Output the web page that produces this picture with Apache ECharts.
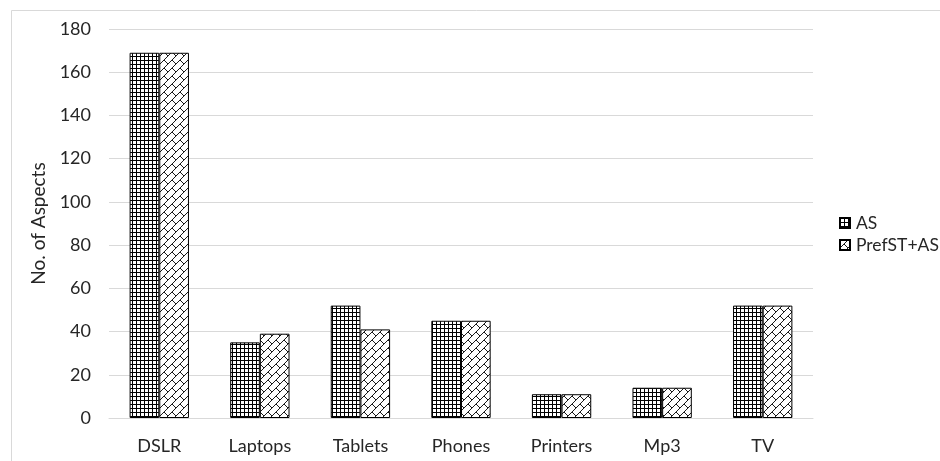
<!DOCTYPE html>
<html>
<head>
<meta charset="utf-8">
<script src="https://cdn.jsdelivr.net/npm/echarts@6/dist/echarts.min.js"></script>
<style>
html,body{margin:0;padding:0;background:#fff;}
#chart{width:940px;height:461px;}
</style>
</head>
<body>
<div id="chart"></div>
<script>
const categories = ['DSLR', 'Laptops', 'Tablets', 'Phones', 'Printers', 'Mp3', 'TV'];
const seriesNames = ['AS', 'PrefST+AS'];
const asValues = [169, 35, 52, 45, 11, 14, 52];
const prefValues = [169, 39, 41, 45, 11, 14, 52];
const yTicks = [0, 20, 40, 60, 80, 100, 120, 140, 160, 180];

function gridPattern() {
  const c = document.createElement('canvas');
  c.width = 4; c.height = 4;
  const g = c.getContext('2d');
  g.fillStyle = '#fff'; g.fillRect(0, 0, 4, 4);
  g.fillStyle = '#000';
  g.fillRect(0, 0, 4, 1);
  g.fillRect(0, 0, 1, 4);
  return c;
}
function brickPattern() {
  const c = document.createElement('canvas');
  c.width = 8; c.height = 8;
  const g = c.getContext('2d');
  g.fillStyle = '#fff'; g.fillRect(0, 0, 8, 8);
  g.strokeStyle = '#000'; g.lineWidth = 0.9;
  g.beginPath();
  g.moveTo(-1, 9); g.lineTo(9, -1);
  g.moveTo(4, 4); g.lineTo(8.5, 8.5);
  g.stroke();
  return c;
}

const chart = echarts.init(document.getElementById('chart'), null, {renderer: 'canvas'});
const font = 'Lato, "Open Sans", sans-serif';
chart.setOption({
  animation: false,
  backgroundColor: '#fff',
  graphic: [{
    type: 'rect', left: 9, top: 8,
    shape: {width: 940, height: 460},
    style: {fill: 'none', stroke: '#d9d9d9', lineWidth: 1}
  }],
  grid: {left: 109, right: 127, top: 29, bottom: 43},
  legend: {
    orient: 'vertical', left: 834, top: 209,
    itemWidth: 10, itemHeight: 10, itemGap: 4,
    icon: 'rect',
    textStyle: {fontFamily: font, fontSize: 17.5, color: '#262626', padding: [0, 0, 0, 1]},
    data: seriesNames
  },
  xAxis: {
    type: 'category', data: categories,
    axisLine: {lineStyle: {color: '#d9d9d9'}},
    axisTick: {show: false},
    axisLabel: {fontFamily: font, fontSize: 18, color: '#262626', margin: 19}
  },
  yAxis: {
    type: 'value', min: yTicks[0], max: yTicks[yTicks.length - 1], interval: 20,
    name: 'No. of Aspects', nameLocation: 'middle', nameGap: 54,
    nameTextStyle: {fontFamily: font, fontSize: 19, color: '#262626'},
    axisLine: {show: false}, axisTick: {show: false},
    axisLabel: {fontFamily: font, fontSize: 18, color: '#262626', margin: 18},
    splitLine: {lineStyle: {color: '#d9d9d9', width: 1}}
  },
  series: [{
    name: seriesNames[0], type: 'bar', data: asValues,
    barGap: '0%', barCategoryGap: '41%',
    itemStyle: {color: {image: gridPattern(), repeat: 'repeat'}, borderColor: '#000', borderWidth: 1}
  }, {
    name: seriesNames[1], type: 'bar', data: prefValues,
    barGap: '0%', barCategoryGap: '41%',
    itemStyle: {color: {image: brickPattern(), repeat: 'repeat'}, borderColor: '#000', borderWidth: 1}
  }]
});
</script>
</body>
</html>
